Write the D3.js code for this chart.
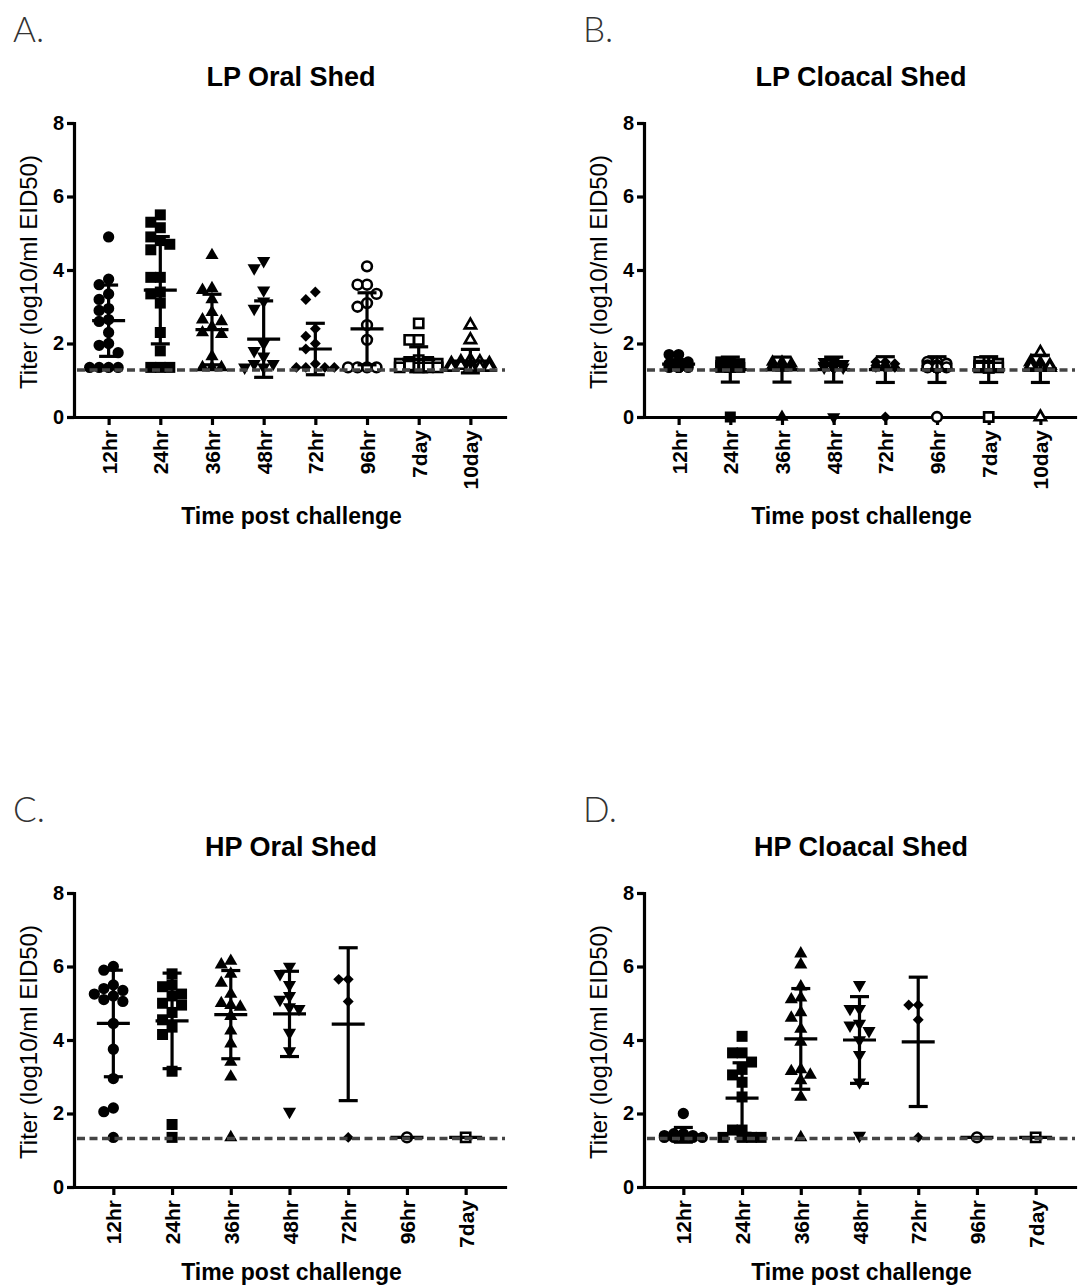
<!DOCTYPE html>
<html>
<head>
<meta charset="utf-8">
<script src="https://cdn.jsdelivr.net/npm/d3@7"></script>
<style>
    body { margin: 0; background: #fff; }
    svg { display: block; font-family: "Liberation Sans", Arial, sans-serif; }
</style>
</head>
<body>
<script>
// categories
var lpGroups = ['12hr', '24hr', '36hr', '48hr', '72hr', '96hr', '7day', '10day'];
var hpGroups = ['12hr', '24hr', '36hr', '48hr', '72hr', '96hr', '7day'];
var yTicks = [0, 2, 4, 6, 8];

// A. LP oral shed
var lpOralValues = [
    [4.9, 3.75, 3.6, 3.35, 3.2, 2.95, 2.9, 2.65, 2.6, 2.3, 2.0, 1.95, 1.75, 1.35, 1.35, 1.35, 1.35],
    [5.5, 5.3, 5.15, 4.9, 4.8, 4.7, 4.55, 3.8, 3.8, 3.4, 3.35, 3.1, 2.3, 1.8, 1.35, 1.35, 1.35],
    [4.4, 3.5, 3.45, 3.2, 2.85, 2.65, 2.6, 2.45, 2.3, 2.25, 1.65, 1.35, 1.35, 1.35],
    [4.25, 4.05, 3.45, 3.15, 2.95, 2.0, 1.8, 1.65, 1.45, 1.45, 1.35, 1.35],
    [3.4, 3.2, 2.4, 2.2, 2.0, 1.85, 1.45, 1.35, 1.35, 1.35, 1.35],
    [4.1, 3.6, 3.6, 3.35, 3.1, 3.0, 2.5, 2.1, 1.35, 1.35, 1.35, 1.35],
    [2.55, 2.1, 2.1, 1.55, 1.5, 1.5, 1.45, 1.45, 1.45, 1.4, 1.35, 1.35, 1.35, 1.35],
    [2.5, 2.1, 1.55, 1.5, 1.5, 1.45, 1.45, 1.4, 1.4, 1.35, 1.35, 1.35, 1.35]
];
var lpOralMeans = [2.62, 3.45, 2.38, 2.12, 1.85, 2.4, 1.57, 1.52];
var lpOralSDs = [0.97, 1.46, 0.96, 1.04, 0.7, 0.98, 0.34, 0.32];

// B. LP cloacal shed
var lpCloacalValues = [
    [1.7, 1.7, 1.5, 1.5, 1.45, 1.45, 1.4, 1.4, 1.4, 1.35, 1.35, 1.35, 1.35, 1.35, 1.35],
    [1.5, 1.5, 1.45, 1.4, 1.4, 1.35, 1.35, 1.35, 1.35, 1.35, 1.35, 1.35, 1.35, 1.35, 0],
    [1.5, 1.5, 1.45, 1.4, 1.4, 1.35, 1.35, 1.35, 1.35, 1.35, 1.35, 1.35, 1.35, 1.35, 0],
    [1.5, 1.5, 1.45, 1.4, 1.4, 1.35, 1.35, 1.35, 1.35, 1.35, 1.35, 1.35, 1.35, 1.35, 0],
    [1.5, 1.5, 1.45, 1.4, 1.4, 1.35, 1.35, 1.35, 1.35, 1.35, 1.35, 1.35, 1.35, 1.35, 0],
    [1.5, 1.5, 1.45, 1.4, 1.4, 1.35, 1.35, 1.35, 1.35, 1.35, 1.35, 1.35, 1.35, 1.35, 0],
    [1.5, 1.5, 1.45, 1.4, 1.4, 1.35, 1.35, 1.35, 1.35, 1.35, 1.35, 1.35, 1.35, 1.35, 0],
    [1.75, 1.5, 1.45, 1.4, 1.4, 1.35, 1.35, 1.35, 1.35, 1.35, 1.35, 1.35, 1.35, 1.35, 0]
];
var lpCloacalMeans = [1.44, 1.29, 1.29, 1.29, 1.29, 1.29, 1.29, 1.31];
var lpCloacalSDs = [0.12, 0.34, 0.34, 0.34, 0.35, 0.35, 0.35, 0.37];

// C. HP oral shed
var hpOralValues = [
    [6.0, 5.9, 5.5, 5.4, 5.35, 5.25, 5.2, 5.1, 5.05, 4.45, 3.75, 2.95, 2.15, 2.05, 1.35],
    [5.8, 5.5, 5.45, 5.25, 5.2, 5.0, 4.95, 4.75, 4.55, 4.35, 4.15, 3.15, 1.7, 1.35],
    [6.15, 6.05, 5.8, 5.55, 5.25, 5.0, 4.95, 4.9, 4.65, 4.25, 3.9, 3.4, 3.0, 1.35],
    [6.0, 5.8, 5.5, 5.2, 5.1, 4.9, 4.85, 4.2, 3.7, 2.05],
    [5.65, 5.65, 5.05, 1.35],
    [1.35],
    [1.35]
];
var hpOralMeans = [4.45, 4.52, 4.69, 4.71, 4.43, 1.35, 1.35];
var hpOralSDs = [1.45, 1.3, 1.2, 1.16, 2.08, 0, 0];

// D. HP cloacal shed
var hpCloacalValues = [
    [2.0, 1.45, 1.45, 1.4, 1.4, 1.35, 1.35, 1.35, 1.35, 1.35],
    [4.1, 3.65, 3.65, 3.4, 3.2, 3.05, 2.85, 2.45, 1.55, 1.55, 1.35, 1.35, 1.35, 1.35],
    [6.35, 6.05, 5.45, 5.15, 5.1, 4.75, 4.6, 4.3, 3.95, 3.2, 3.15, 3.05, 2.9, 2.45, 1.35],
    [5.5, 4.85, 4.85, 4.45, 4.4, 4.25, 4.0, 3.6, 2.85, 1.4],
    [4.95, 4.95, 4.55, 1.35],
    [1.35],
    [1.35]
];
var hpCloacalMeans = [1.42, 2.42, 4.03, 4.0, 3.95, 1.35, 1.35];
var hpCloacalSDs = [0.2, 0.96, 1.37, 1.18, 1.76, 0, 0];

var detectionLimits = [1.28, 1.28, 1.32, 1.32];

var plotW = 431,
    plotH = 294,
    shapes = ['circle', 'square', 'triangle', 'triangleDown', 'diamond', 'circleOpen', 'squareOpen', 'triangleOpen'];

var svg = d3.select('body').append('svg')
    .attr('width', 1084)
    .attr('height', 1287);

function markerPath(kind) {
    if (kind === 'circle') { return d3.symbol(d3.symbolCircle, 100)(); }
    if (kind === 'square') { return d3.symbol(d3.symbolSquare, 121)(); }
    if (kind === 'triangle' || kind === 'triangleDown') { return d3.symbol(d3.symbolTriangle, 75)(); }
    if (kind === 'diamond') { return d3.symbol(d3.symbolSquare, 60)(); }
    if (kind === 'circleOpen') { return d3.symbol(d3.symbolCircle, 75)(); }
    if (kind === 'squareOpen') { return d3.symbol(d3.symbolSquare, 85)(); }
    return d3.symbol(d3.symbolTriangle, 55)();
}

// spread points that sit on top of each other, like a column scatter
function spread(vals, y, width) {
    var step = 9.5, placed = [], cands = [0, -1, 1, -2, 2].filter(function (k) { return Math.abs(k) <= width; });
    vals.forEach(function (v) {
        var py = y(v), best = 0, bestDist = -1;
        for (var k = 0; k < cands.length; k++) {
            var dx = cands[k] * step, minD = Infinity;
            placed.forEach(function (p) {
                var d = Math.sqrt((p.dx - dx) * (p.dx - dx) + (p.py - py) * (p.py - py));
                if (d < minD) { minD = d; }
            });
            if (minD >= step) { best = dx; bestDist = minD; break; }
            if (minD > bestDist) { bestDist = minD; best = dx; }
        }
        placed.push({v: v, dx: best, py: py});
    });
    return placed;
}

function drawPanel(p) {
    var g = svg.append('g').attr('transform', 'translate(' + p.left + ',' + p.top + ')');
    var x = d3.scalePoint().domain(p.groups).range([0, plotW]).padding(0.67);
    var y = d3.scaleLinear().domain([0, 8]).range([plotH, 0]);

    // texts
    svg.append('text')
        .attr('x', p.left - 61).attr('y', p.letterY)
        .style('font-family', 'Lato, "Liberation Sans", sans-serif')
        .style('font-weight', 300)
        .style('font-size', '35px')
        .attr('fill', '#333')
        .text(p.letter);

    svg.append('text')
        .attr('x', p.left + 217).attr('y', p.top - 37)
        .style('text-anchor', 'middle')
        .style('font-weight', 'bold')
        .style('font-size', '27px')
        .text(p.title);

    g.append('text')
        .attr('transform', 'translate(-37,' + (plotH / 2 + 2) + ') rotate(-90)')
        .style('text-anchor', 'middle')
        .style('font-size', '24px')
        .text('Titer (log10/ml EID50)');

    g.append('text')
        .attr('x', plotW / 2 + 2).attr('y', plotH + p.xTitleGap)
        .style('text-anchor', 'middle')
        .style('font-weight', 'bold')
        .style('font-size', '23px')
        .text('Time post challenge');

    // axes
    var yAxis = g.append('g')
        .call(d3.axisLeft(y).tickValues(yTicks).tickSize(7).tickSizeOuter(0).tickPadding(3));
    var xAxis = g.append('g')
        .attr('transform', 'translate(0,' + plotH + ')')
        .call(d3.axisBottom(x).tickSize(8).tickSizeOuter(0));

    [yAxis, xAxis].forEach(function (a) {
        a.attr('font-family', null).attr('font-size', null);
        a.select('.domain').attr('stroke-width', 3.2).attr('stroke-linecap', 'square');
        a.selectAll('.tick line').attr('stroke-width', 3.2);
        a.selectAll('.tick text')
            .attr('fill', '#000')
            .style('font-weight', 'bold')
            .style('font-size', '20px');
    });
    xAxis.selectAll('.tick text')
        .attr('transform', 'rotate(-90)')
        .attr('x', -13)
        .attr('y', 0)
        .attr('dy', '0.36em')
        .style('text-anchor', 'end')
        .style('font-size', '21px');

    // points
    p.values.forEach(function (vals, i) {
        var cx = x(p.groups[i]),
            kind = shapes[i],
            open = kind.indexOf('Open') > 0,
            rot = kind === 'triangleDown' ? ' rotate(180)' : (kind === 'diamond' ? ' rotate(45)' : '');

        g.selectAll(null)
            .data(spread(vals, y, p.spreadWidth))
            .enter()
            .append('path')
            .attr('d', markerPath(kind))
            .attr('transform', function (d) { return 'translate(' + (cx + d.dx) + ',' + d.py + ')' + rot; })
            .attr('fill', open ? '#fff' : '#000')
            .attr('stroke', open ? '#000' : 'none')
            .attr('stroke-width', 2.6);
    });

    // mean +/- SD
    p.means.forEach(function (m, i) {
        var cx = x(p.groups[i]), sd = p.sds[i];
        var bar = g.append('g').attr('stroke', '#000').attr('stroke-width', 3.2);
        if (sd > 0) {
            bar.append('line')
                .attr('x1', cx).attr('x2', cx)
                .attr('y1', y(m - sd)).attr('y2', y(m + sd));
            [m - sd, m + sd].forEach(function (v) {
                bar.append('line')
                    .attr('x1', cx - 9.5).attr('x2', cx + 9.5)
                    .attr('y1', y(v)).attr('y2', y(v));
            });
        }
        bar.append('line')
            .attr('x1', cx - 16.5).attr('x2', cx + 16.5)
            .attr('y1', y(m)).attr('y2', y(m));
    });

    // limit of detection
    g.append('line')
        .attr('x1', 3).attr('x2', plotW)
        .attr('y1', y(p.lod)).attr('y2', y(p.lod))
        .attr('stroke', '#444')
        .attr('stroke-width', 3.4)
        .attr('stroke-dasharray', '8,4.5');
}

var panels = [
    {letter: 'A.', title: 'LP Oral Shed', left: 74, top: 123, groups: lpGroups, values: lpOralValues,
        means: lpOralMeans, sds: lpOralSDs, lod: detectionLimits[0], xTitleGap: 107, letterY: 42, spreadWidth: 2},
    {letter: 'B.', title: 'LP Cloacal Shed', left: 644, top: 123, groups: lpGroups, values: lpCloacalValues,
        means: lpCloacalMeans, sds: lpCloacalSDs, lod: detectionLimits[1], xTitleGap: 107, letterY: 42, spreadWidth: 1},
    {letter: 'C.', title: 'HP Oral Shed', left: 74, top: 893, groups: hpGroups, values: hpOralValues,
        means: hpOralMeans, sds: hpOralSDs, lod: detectionLimits[2], xTitleGap: 93, letterY: 822, spreadWidth: 2},
    {letter: 'D.', title: 'HP Cloacal Shed', left: 644, top: 893, groups: hpGroups, values: hpCloacalValues,
        means: hpCloacalMeans, sds: hpCloacalSDs, lod: detectionLimits[3], xTitleGap: 93, letterY: 822, spreadWidth: 2}
];

panels.forEach(drawPanel);
</script>
</body>
</html>
